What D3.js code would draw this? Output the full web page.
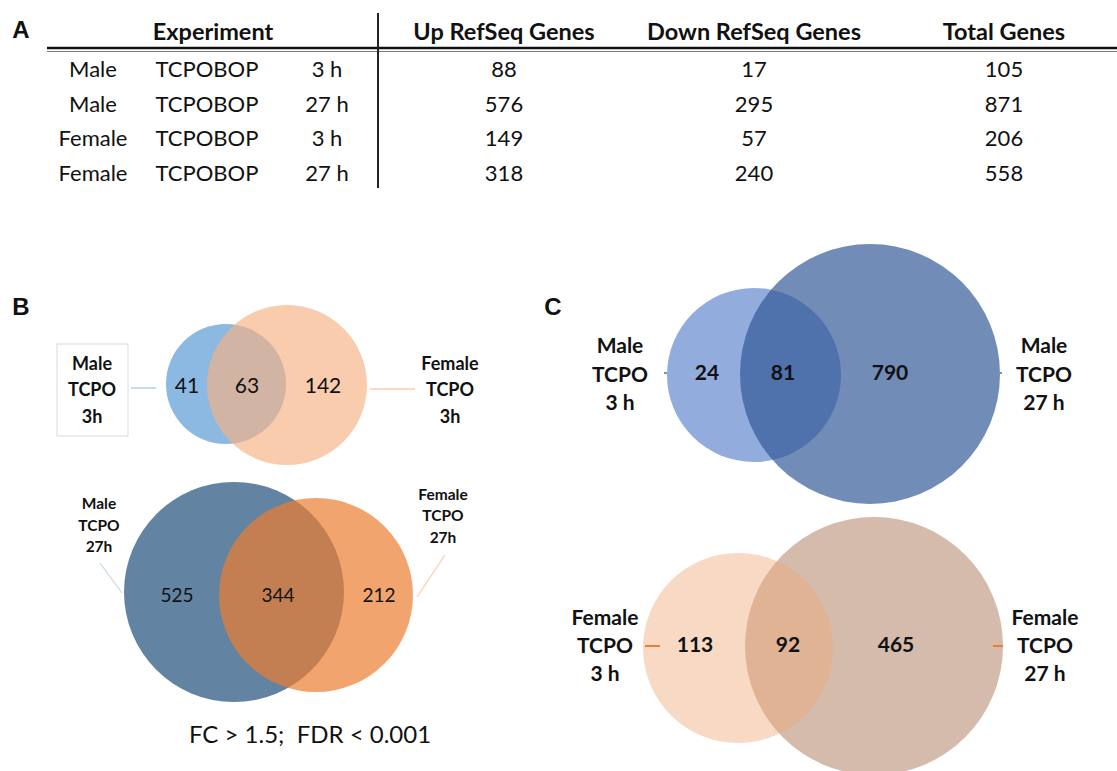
<!DOCTYPE html>
<html>
<head>
<meta charset="utf-8">
<script src="https://cdn.jsdelivr.net/npm/d3@7"></script>
<style>
  body { margin: 0; background: #fff; }
  text { font-family: Lato, "Open Sans", sans-serif; fill: #111; }
</style>
</head>
<body>
<svg id="chart"></svg>
<script>
// ---------- data ----------
const headers = ['Experiment', 'Up RefSeq Genes', 'Down RefSeq Genes', 'Total Genes'];
const sexes = ['Male', 'Male', 'Female', 'Female'];
const treatments = ['TCPOBOP', 'TCPOBOP', 'TCPOBOP', 'TCPOBOP'];
const times = ['3 h', '27 h', '3 h', '27 h'];
const upGenes = [88, 576, 149, 318];
const downGenes = [17, 295, 57, 240];
const totalGenes = [105, 871, 206, 558];

const vennSetNames = [
    [['Male', 'TCPO', '3h'], ['Female', 'TCPO', '3h']],
    [['Male', 'TCPO', '27h'], ['Female', 'TCPO', '27h']],
    [['Male', 'TCPO', '3 h'], ['Male', 'TCPO', '27 h']],
    [['Female', 'TCPO', '3 h'], ['Female', 'TCPO', '27 h']]
];
// left only, shared, right only
const vennCounts = [
    [41, 63, 142],
    [525, 344, 212],
    [24, 81, 790],
    [113, 92, 465]
];
const footnote = 'FC > 1.5;  FDR < 0.001';

// ---------- layout ----------
const width = 1117, height = 771;

const svg = d3.select('#chart')
    .attr('width', width)
    .attr('height', height);

function panelLetter(txt, x, y) {
    svg.append('text')
        .attr('x', x).attr('y', y)
        .attr('dy', '0.35em')
        .attr('text-anchor', 'middle')
        .style('font-family', '"Liberation Sans", Arial, sans-serif')
        .style('font-weight', 'bold')
        .style('font-size', '24px')
        .text(txt);
}

// ---------- A: table ----------
panelLetter('A', 21, 30);

const colX = d3.scaleOrdinal()
    .domain(['sex', 'treat', 'time', 'up', 'down', 'total'])
    .range([93, 207, 327, 504, 754, 1004]);

const rowY = d3.scaleBand()
    .domain(d3.range(sexes.length))
    .range([52, 190.5]);

const table = svg.append('g');

table.selectAll('.hdr')
    .data(headers)
    .join('text')
    .attr('x', (d, i) => i === 0 ? 213 : colX(['up', 'down', 'total'][i - 1]))
    .attr('y', 32)
    .attr('dy', '0.35em')
    .attr('text-anchor', 'middle')
    .style('font-weight', 'bold')
    .style('font-size', '23.5px')
    .text(d => d);

table.append('line')
    .attr('x1', 47).attr('x2', width)
    .attr('y1', 48).attr('y2', 48)
    .attr('stroke', '#111').attr('stroke-width', 2.5);
table.append('line')
    .attr('x1', 47).attr('x2', width)
    .attr('y1', 51.5).attr('y2', 51.5)
    .attr('stroke', '#777').attr('stroke-width', 1);
table.append('line')
    .attr('x1', 378).attr('x2', 378)
    .attr('y1', 13).attr('y2', 188)
    .attr('stroke', '#222').attr('stroke-width', 2);

const rows = d3.range(sexes.length).map(i => ({
    sex: sexes[i], treat: treatments[i], time: times[i],
    up: upGenes[i], down: downGenes[i], total: totalGenes[i]
}));

rows.forEach((r, i) => {
    colX.domain().forEach(k => {
        table.append('text')
            .attr('x', colX(k))
            .attr('y', rowY(i) + rowY.bandwidth() / 2)
            .attr('dy', '0.35em')
            .attr('text-anchor', 'middle')
            .style('font-size', '22px')
            .text(r[k]);
    });
});

// ---------- Venn helper ----------
function drawVenn(spec, names, counts) {
    const g = svg.append('g');

    spec.order.forEach(k => {
        const c = spec.circles[k];
        g.append('circle')
            .attr('cx', c.cx).attr('cy', c.cy).attr('r', c.r)
            .attr('fill', c.fill)
            .attr('fill-opacity', c.opacity);
    });

    counts.forEach((v, i) => {
        g.append('text')
            .attr('x', spec.countX[i])
            .attr('y', spec.countY)
            .attr('dy', '0.35em')
            .attr('text-anchor', 'middle')
            .style('font-size', spec.countSize + 'px')
            .style('font-weight', spec.countWeight)
            .text(v);
    });

    spec.leaders.forEach(l => {
        g.append('line')
            .attr('x1', l[0]).attr('y1', l[1])
            .attr('x2', l[2]).attr('y2', l[3])
            .attr('stroke', l[4])
            .attr('stroke-width', l[5] || 1.2);
    });

    if (spec.box) {
        g.append('rect')
            .attr('x', spec.box[0]).attr('y', spec.box[1])
            .attr('width', spec.box[2]).attr('height', spec.box[3])
            .attr('fill', 'none')
            .attr('stroke', '#d9d9d9');
    }

    names.forEach((lines, s) => {
        const lab = spec.labels[s];
        g.append('text')
            .attr('text-anchor', 'middle')
            .style('font-weight', 'bold')
            .style('font-size', spec.labelSize + 'px')
            .selectAll('tspan')
            .data(lines)
            .join('tspan')
            .attr('x', lab.x)
            .attr('y', (d, i) => lab.y[i])
            .attr('dy', '0.35em')
            .text(d => d);
    });
}

// ---------- B ----------
panelLetter('B', 21, 307);

drawVenn({
    circles: [
        { cx: 226, cy: 384, r: 60, fill: '#5B9BD5', opacity: 0.7 },
        { cx: 287, cy: 385, r: 80, fill: '#F4B183', opacity: 0.66 }
    ],
    order: [0, 1],
    countX: [187, 247, 323], countY: 386,
    countSize: 21, countWeight: 'normal',
    labelSize: 18,
    labels: [{ x: 92, y: [364, 390, 417] }, { x: 450, y: [364, 390, 417] }],
    box: [57, 344, 71, 92],
    leaders: [[131, 388, 156, 388, '#9dc3e6'], [370, 389, 415, 389, '#f8cbad', 1.5]]
}, vennSetNames[0], vennCounts[0]);

drawVenn({
    circles: [
        { cx: 234, cy: 592, r: 110, fill: '#1F4E79', opacity: 0.7 },
        { cx: 316, cy: 595, r: 97, fill: '#ED7D31', opacity: 0.7 }
    ],
    order: [0, 1],
    countX: [177, 278, 379], countY: 595,
    countSize: 19, countWeight: 'normal',
    labelSize: 15.5,
    labels: [{ x: 99, y: [504, 526, 547] }, { x: 443, y: [495, 516, 538] }],
    leaders: [[100, 563, 122, 593, '#bdd7ee'], [445, 555, 417, 597, '#f8cbad']]
}, vennSetNames[1], vennCounts[1]);

svg.append('text')
    .attr('x', 310).attr('y', 735)
    .attr('dy', '0.35em')
    .attr('text-anchor', 'middle')
    .style('font-size', '24px')
    .style('white-space', 'pre')
    .text(footnote);

// ---------- C ----------
panelLetter('C', 553, 307);

drawVenn({
    circles: [
        { cx: 754, cy: 375, r: 87, fill: '#4472C4', opacity: 0.58 },
        { cx: 870, cy: 374, r: 130, fill: '#2F5597', opacity: 0.68 }
    ],
    order: [0, 1],
    countX: [707, 783, 890], countY: 373,
    countSize: 21, countWeight: 'bold',
    labelSize: 21,
    labels: [{ x: 620, y: [346, 375, 403] }, { x: 1044, y: [346, 375, 403] }],
    leaders: [[664, 373, 667, 373, '#5B9BD5', 2], [999, 373, 1002, 373, '#5B9BD5', 2]]
}, vennSetNames[2], vennCounts[2]);

drawVenn({
    circles: [
        { cx: 738, cy: 648, r: 95, fill: '#F0AB7A', opacity: 0.45 },
        { cx: 874, cy: 646, r: 129, fill: '#D4BBAC', opacity: 1 }
    ],
    order: [1, 0],
    countX: [695, 788, 896], countY: 645,
    countSize: 21, countWeight: 'bold',
    labelSize: 21,
    labels: [{ x: 605, y: [618, 646, 674] }, { x: 1045, y: [618, 646, 674] }],
    leaders: [[645, 646, 660, 646, '#ED7D31', 2], [993, 646, 1003, 646, '#ED7D31', 2]]
}, vennSetNames[3], vennCounts[3]);
</script>
</body>
</html>
